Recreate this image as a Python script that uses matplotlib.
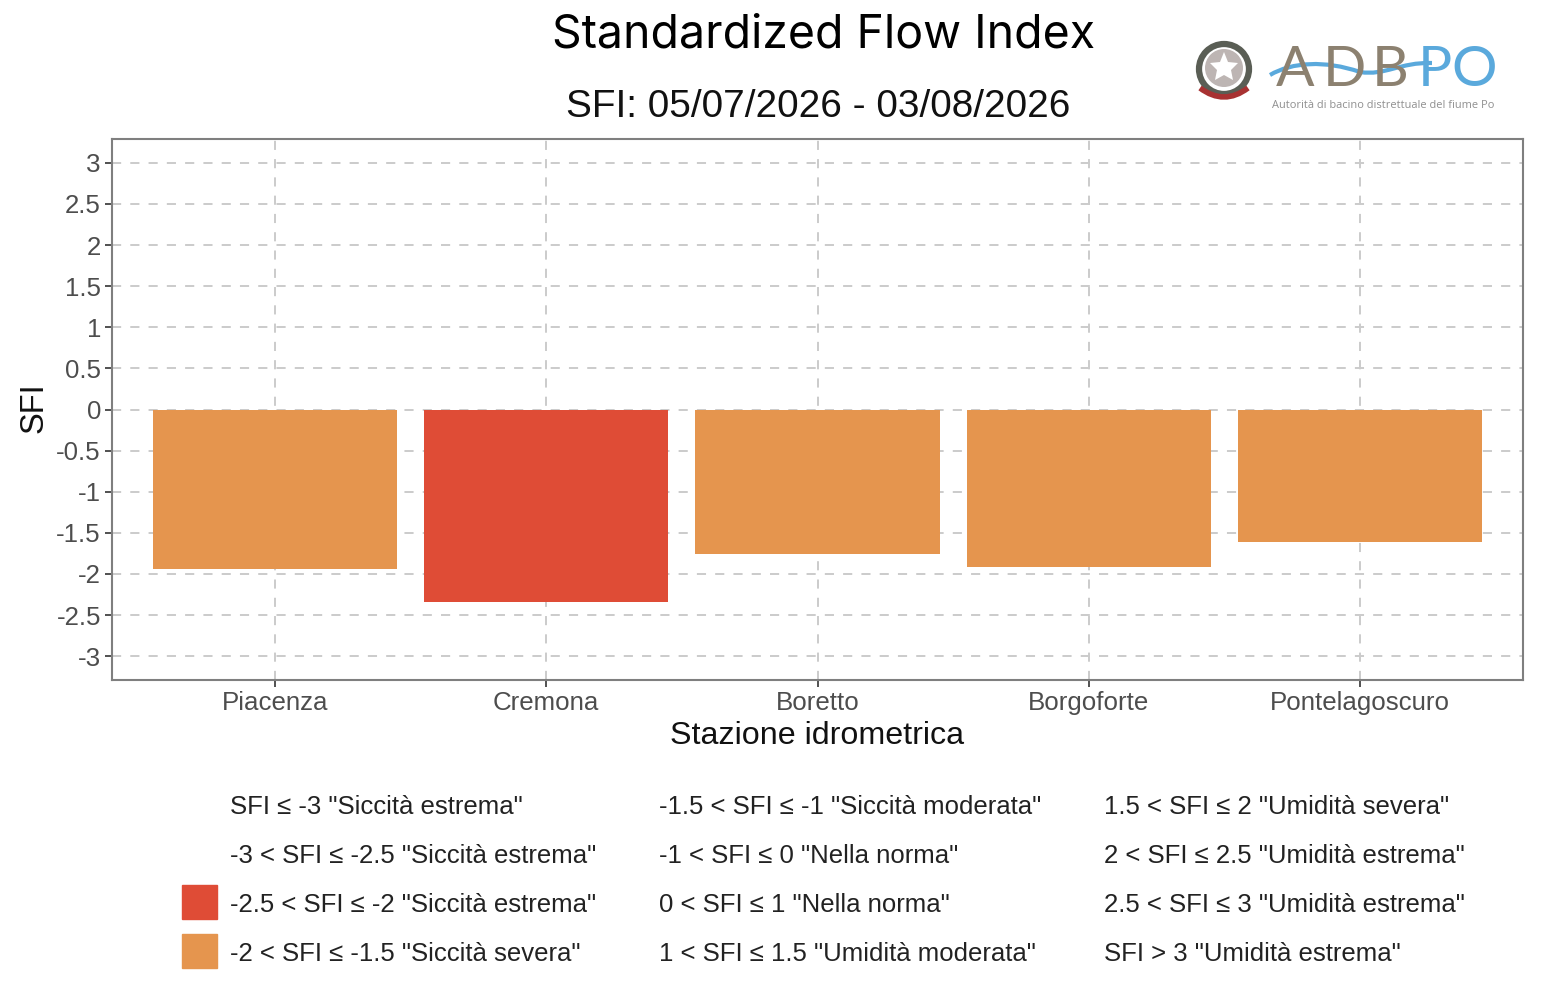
import matplotlib
matplotlib.use('Agg')
import matplotlib.pyplot as plt
from matplotlib.patches import Circle, PathPatch, Polygon, Rectangle
from matplotlib.path import Path

W, H = 1562, 1000

stations = ['Piacenza', 'Cremona', 'Boretto', 'Borgoforte', 'Pontelagoscuro']
sfi = [-1.94, -2.34, -1.76, -1.92, -1.61]
bar_colors = ['#E5954E', '#DF4C36', '#E5954E', '#E5954E', '#E5954E']
y_ticks = [3, 2.5, 2, 1.5, 1, 0.5, 0, -0.5, -1, -1.5, -2, -2.5, -3]
y_tick_labels = ['3', '2.5', '2', '1.5', '1', '0.5', '0', '-0.5', '-1', '-1.5', '-2', '-2.5', '-3']

legend_col1 = ['SFI ≤ -3 "Siccità estrema"', '-3 < SFI ≤ -2.5 "Siccità estrema"',
               '-2.5 < SFI ≤ -2 "Siccità estrema"', '-2 < SFI ≤ -1.5 "Siccità severa"']
legend_col2 = ['-1.5 < SFI ≤ -1 "Siccità moderata"', '-1 < SFI ≤ 0 "Nella norma"',
               '0 < SFI ≤ 1 "Nella norma"', '1 < SFI ≤ 1.5 "Umidità moderata"']
legend_col3 = ['1.5 < SFI ≤ 2 "Umidità severa"', '2 < SFI ≤ 2.5 "Umidità estrema"',
               '2.5 < SFI ≤ 3 "Umidità estrema"', 'SFI > 3 "Umidità estrema"']
legend_swatches = [None, None, '#DF4C36', '#E5954E']

logo_letters = ['A', 'D', 'B', 'P', 'O']


def fx(px):
    return px / W


def fy(py):
    return 1 - py / H


plt.rcParams['font.family'] = ['Liberation Sans', 'DejaVu Sans']
fig = plt.figure(figsize=(15.62, 10), dpi=100)

ax = fig.add_axes([fx(112), fy(680), (1523 - 112) / W, (680 - 139) / H])
ax.set_axisbelow(True)
ax.bar(stations, sfi, width=0.9, color=bar_colors)
ax.set_xlim(-0.6, 4.6)
ax.set_ylim(-3.29, 3.29)
ax.set_yticks(y_ticks)
ax.set_yticklabels(y_tick_labels)
ax.grid(True, color='#cbcbcb', linestyle=(0, (4.7, 4.7)), linewidth=1.4)
ax.tick_params(axis='both', length=5, width=1.2, color='#333333',
               labelsize=18.6, labelcolor='#4d4d4d')
ax.tick_params(axis='x', pad=3)
ax.tick_params(axis='y', pad=3)
for spine in ax.spines.values():
    spine.set_color('#7f7f7f')
    spine.set_linewidth(1.5)

ax.set_xlabel('Stazione idrometrica', fontsize=23.2, color='#111111', labelpad=4.5)
fig.text(fx(34), fy(408), 'SFI', rotation=90, fontsize=23.5, color='#111111',
         ha='center', va='center')

# titles
fig.text(fx(823.5), fy(35), 'Standardized Flow Index', fontsize=33.4, color='black',
         ha='center', va='center', family=['Inter', 'DejaVu Sans'])
fig.text(fx(818), fy(107), 'SFI: 05/07/2026 - 03/08/2026', fontsize=27.9, color='#111111',
         ha='center', va='center')

# legend below the plot
rows_y = [807, 856, 905, 954]
for col, x in zip([legend_col1, legend_col2, legend_col3], [230, 659, 1104]):
    for label, y in zip(col, rows_y):
        fig.text(fx(x), fy(y), label, fontsize=18.55, color='#222222', ha='left', va='center')
for swatch, y in zip(legend_swatches, [805, 854, 902, 951]):
    if swatch:
        fig.add_artist(Rectangle((fx(182), fy(y + 17)), 35 / W, 34 / H, color=swatch,
                                 transform=fig.transFigure))

# logo: emblem
lx = fig.add_axes([0, 0, 1, 1], facecolor='none')
lx.set_xlim(0, W)
lx.set_ylim(H, 0)
lx.axis('off')
lx.add_patch(Circle((1224, 69), 25, facecolor='none', edgecolor='#5a5e55', linewidth=4.5))
lx.add_patch(Circle((1224, 68), 19, facecolor='#bdb5b3', edgecolor='none'))
star_x = [1224, 1228, 1238, 1231, 1233, 1224, 1215, 1217, 1210, 1220]
star_y = [52, 62, 63, 70, 80, 75, 80, 70, 63, 62]
lx.add_patch(Polygon(list(zip(star_x, star_y)), facecolor='white', edgecolor='none'))
lx.add_patch(PathPatch(Path([(1200, 88), (1224, 106), (1248, 88)],
                            [Path.MOVETO, Path.CURVE3, Path.CURVE3]),
                       facecolor='none', edgecolor='#a83232', linewidth=4))

# logo: lettering and river line
for letter, x, color in zip(logo_letters, [1295, 1344, 1390, 1435, 1474],
                            ['#8c8170', '#8c8170', '#8c8170', '#5AA9DC', '#5AA9DC']):
    lx.text(x, 71, letter, fontsize=41, color=color, ha='center', va='center',
            family=['Lato', 'DejaVu Sans'])
wave = Path([(1270, 75), (1292, 62), (1325, 60), (1360, 72), (1385, 76), (1400, 62), (1432, 63)],
            [Path.MOVETO] + [Path.CURVE4] * 6)
lx.add_patch(PathPatch(wave, facecolor='none', edgecolor='#5AA9DC', linewidth=3))
lx.text(1383, 105, 'Autorità di bacino distrettuale del fiume Po', fontsize=7.9, color='#8f8f8f',
        ha='center', va='center', family=['Open Sans', 'DejaVu Sans'])

fig.savefig('out.png', dpi=100)
